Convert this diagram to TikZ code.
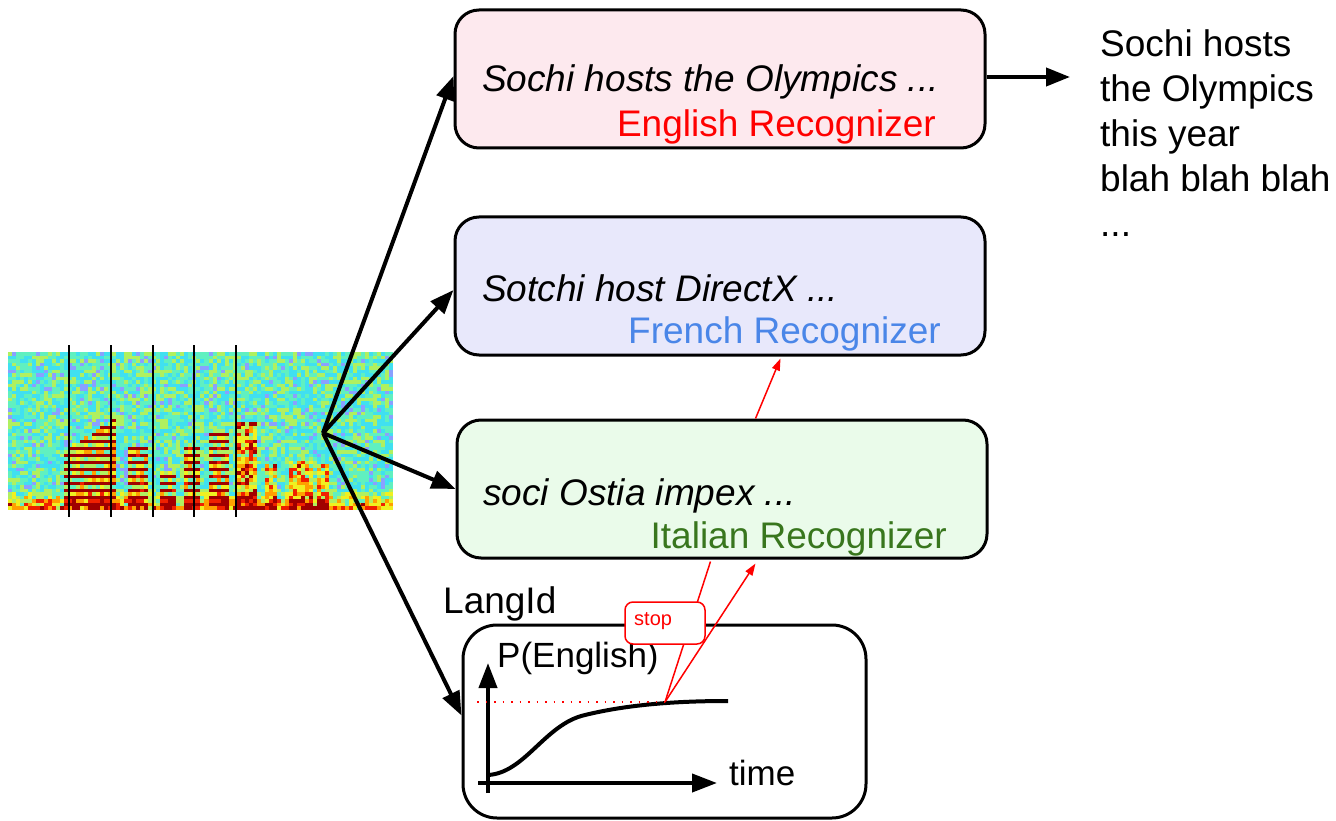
\documentclass[tikz,border=0pt]{standalone}
\usepackage{fontspec}
\setmainfont{Liberation Sans}
\usetikzlibrary{arrows.meta,calc}
\definecolor{engfill}{HTML}{FDE9EE}
\definecolor{frefill}{HTML}{E8E8FB}
\definecolor{itafill}{HTML}{EAFBEA}
\definecolor{engtxt}{HTML}{FF0000}
\definecolor{fretxt}{HTML}{4A86E8}
\definecolor{itatxt}{HTML}{38761D}
\definecolor{spc0}{HTML}{4060FF}
\definecolor{spc1}{HTML}{4060FF}
\definecolor{spc2}{HTML}{8AA0FF}
\definecolor{spc3}{HTML}{40E0F0}
\definecolor{spc4}{HTML}{60F0C0}
\definecolor{spc5}{HTML}{B0F060}
\definecolor{spc6}{HTML}{F0F020}
\definecolor{spc7}{HTML}{FFA000}
\definecolor{spc8}{HTML}{F02000}
\definecolor{spc9}{HTML}{A00000}
\begin{document}
\begin{tikzpicture}[x=1pt,y=-1pt,
  recbox/.style={draw=black, line width=3pt, rounded corners=24pt, minimum width=530pt, minimum height=138pt, inner sep=0pt},
  langbox/.style={draw=black, line width=3pt, rounded corners=34pt, minimum width=403pt, minimum height=193pt, inner sep=0pt, fill=white},
  bigtxt/.style={font=\fontsize{37}{44}\selectfont, inner sep=0pt},
  fanarrow/.style={line width=4pt, -{Triangle[length=24pt,width=18pt]}},
  axisarrow/.style={line width=4pt, -{Triangle[length=25pt,width=18pt]}},
  redline/.style={draw=red, line width=1.5pt},
  redarrow/.style={draw=red, line width=1.5pt, -{Triangle[length=12pt,width=8pt]}, fill=red},
  stopbox/.style={draw=red, line width=1.5pt, fill=white, rounded corners=8pt, minimum width=80pt, minimum height=42pt, inner sep=0pt},
  spline/.style={line width=2pt, draw=black}
]
\useasboundingbox (0,0) rectangle (1336,821);
\fill[white] (0,0) rectangle (1336,821);

% spectrogram
\pgfmathsetseed{7}
\foreach \i in {0,...,95}{
  \foreach \j in {0,...,44}{
    \pgfmathsetmacro\spX{10+4.01*\i}
    \pgfmathsetmacro\spY{353.75+3.511*\j}
    \pgfmathsetmacro\spT{\j/44}
    \pgfmathsetmacro\spS{(\spX>66)*(\spX<116)*(\spT>(0.62-0.004*(\spX-66))) + 0.9*(\spX>129)*(\spX<148)*(\spT>0.6) + 0.8*(\spX>160)*(\spX<175)*(\spT>0.75) + 0.9*(\spX>184)*(\spX<201)*(\spT>0.6) + 0.9*(\spX>210)*(\spX<228)*(\spT>0.5)}
    \pgfmathsetmacro\spM{(\spX>237)*(\spX<256)*(\spT>0.45) + 0.7*(\spX>265)*(\spX<278)*(\spT>0.72) + 0.8*(\spX>288)*(\spX<312)*(\spT>0.7) + 0.7*(\spX>316)*(\spX<330)*(\spT>0.72)}
    \pgfmathsetmacro\spH{pow(cos(25.714*\spY),6)}
    \pgfmathsetmacro\spV{0.27+0.32*rnd + \spS*(0.12+0.6*\spH+0.1*rnd) + \spM*(0.1+0.45*rnd) + (\spT>0.88)*(\spT-0.88)*(1.5+2.5*rnd)}
    \pgfmathtruncatemacro\spC{max(0,min(9,10*\spV))}
    \fill[spc\spC] (\spX-2,\spY-1.75) rectangle ++(4.4,3.9);
  }
}
\foreach \xx in {69,111,153,194,236}{
  \draw[spline] (\xx,345) -- (\xx,517);
}

% recognizer boxes
\node[recbox, fill=engfill] (eng) at (720,79) {};
\node[bigtxt, anchor=base west] (engA) at (482,92) {\itshape Sochi hosts the Olympics ...};
\node[bigtxt, anchor=base east, text=engtxt] (engB) at (936,137) {English Recognizer};

\node[recbox, fill=frefill] (fre) at (720,286) {};
\node[bigtxt, anchor=base west] (freA) at (482,301) {\itshape Sotchi host DirectX ...};
\node[bigtxt, anchor=base east, text=fretxt] (freB) at (941,343) {French Recognizer};

\node[recbox, fill=itafill] (ita) at (722,489) {};
\node[bigtxt, anchor=base west] (itaA) at (483,505) {\itshape soci Ostia impex ...};
\node[bigtxt, anchor=base east, text=itatxt] (itaB) at (947,548) {Italian Recognizer};

% output text
\node[bigtxt, anchor=north west, align=left, font=\fontsize{37}{45}\selectfont] (out) at (1100,29) {Sochi hosts\\the Olympics\\this year\\blah blah blah\\...};
\coordinate (outtip) at (1070,77);
\draw[fanarrow] (eng.east |- outtip) -- (outtip);

% LangId
\node[bigtxt, anchor=base west] (langlbl) at (443,613) {LangId};
\node[langbox] (lang) at (664.5,721.5) {};

% fan arrows
\coordinate (fan) at (323,433);
\draw[fanarrow] (fan) -- ($(eng.west)+(0,-3)$);
\draw[fanarrow] (fan) -- ($(fre.west)+(0,4)$);
\draw[fanarrow] (fan) -- (ita.west);
\draw[fanarrow] (fan) -- ($(lang.west)+(0,-6)$);

% graph
\draw[axisarrow] (488,793) -- (488,663);
\draw[axisarrow] (478,783) -- (717,783);
\node[bigtxt, anchor=base west, font=\fontsize{35}{42}\selectfont] (plbl) at (497,667) {P(English)};
\node[bigtxt, anchor=base west, font=\fontsize{35}{42}\selectfont] (tlbl) at (729,785) {time};
\draw[line width=4pt] (488,775) .. controls (525,773) and (545,724) .. (585,715) .. controls (630,704) and (680,701) .. (728,701);

% red annotations
\coordinate (hit) at (665,702);
\draw[red, line width=1.5pt, dash pattern=on 1.5pt off 7pt] (477,702) -- (hit);
\draw[redline] ($(ita.south west)+(255,2)$) -- (hit);
\node[stopbox] (stop) at (665,623) {};
\node[anchor=base west, inner sep=0pt, text=red, font=\fontsize{20}{24}\selectfont] (stoptxt) at (634,625) {stop};
\draw[redarrow] (hit) -- ($(ita.south west)+(300,4)$);
\draw[redarrow] ($(ita.north west)+(300,0)$) -- ($(fre.south west)+(327,2)$);
\end{tikzpicture}
\end{document}
